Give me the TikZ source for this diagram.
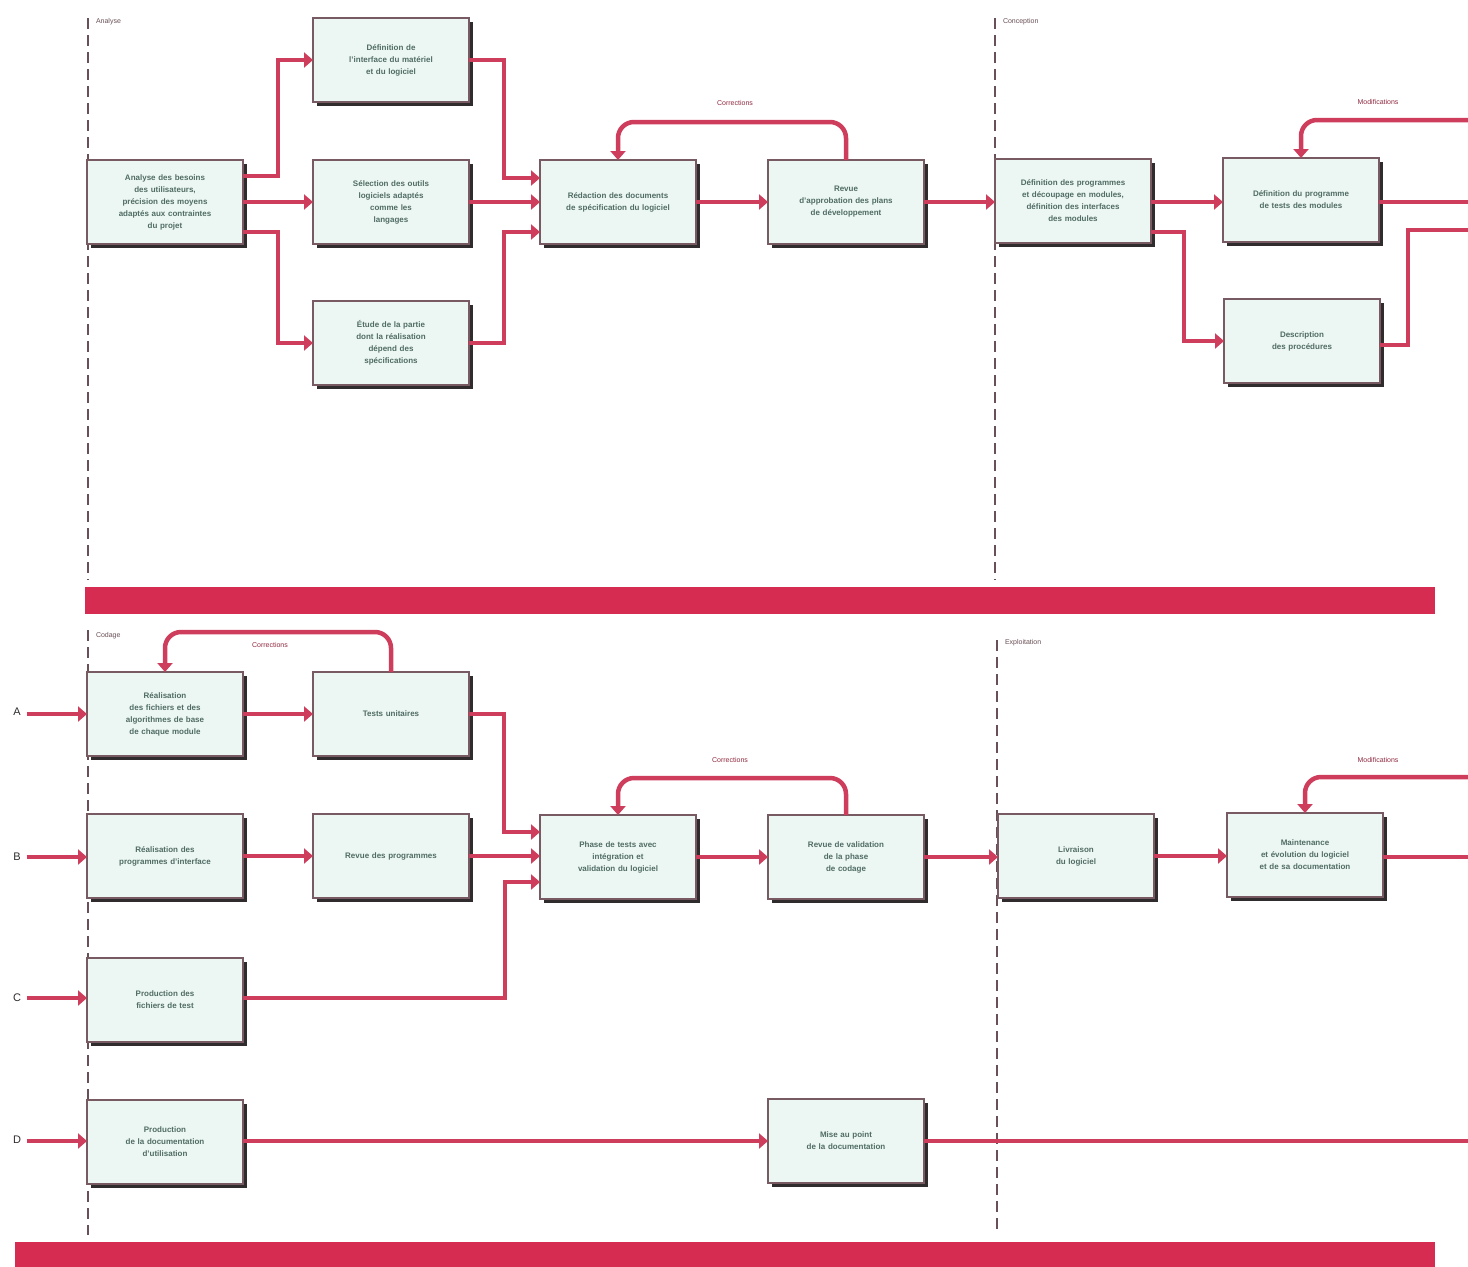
\documentclass[tikz,border=0pt]{standalone}
\usepackage{fontspec}
\setmainfont{Liberation Sans}
\usetikzlibrary{arrows.meta,calc}
\definecolor{rouge}{RGB}{206,62,92}
\definecolor{barre}{RGB}{214,44,82}
\definecolor{tiret}{RGB}{105,80,86}
\definecolor{bord}{RGB}{120,90,98}
\definecolor{fond}{RGB}{236,247,243}
\definecolor{ombre}{RGB}{48,44,46}
\definecolor{texte}{RGB}{80,108,100}
\tikzset{
  bloc/.style={draw=bord, line width=1.1pt, fill=fond, minimum width=156, minimum height=84,
    text width=146, align=center, text=texte, font=\fontsize{8}{12}\selectfont\bfseries},
  lien/.style={draw=rouge, line width=4.5pt, -{Triangle[width=15pt,length=9pt]}},
  fil/.style={draw=rouge, line width=4.5pt},
  tirets/.style={draw=tiret, line width=2.6pt, dash pattern=on 11pt off 6pt},
  etiq/.style={text=rouge!70!black, font=\fontsize{7}{9}\selectfont},
  phase/.style={anchor=west, text=tiret, font=\fontsize{7}{9}\selectfont},
  lettre/.style={text=ombre, font=\fontsize{11}{13}\selectfont}
}
\newcommand\etape[4]{%
  \fill[ombre] (#2-74,#3-38) rectangle (#2+82,#3+46);
  \node[bloc] (#1) at (#2,#3) {#4};}
\begin{document}
\begin{tikzpicture}[y=1pt, x=1pt, yscale=-1, inner sep=0pt, outer sep=0pt]
\useasboundingbox[fill=white] (0,0) rectangle (1468,1267);
% limites des phases
\draw[tirets] (88,18) -- (88,580);
\draw[tirets] (995,18) -- (995,580);
\draw[tirets] (88,630) -- (88,1235);
\draw[tirets] (997,640) -- (997,1235);
\node[phase] (ph1) at (96,22) {Analyse};
\node[phase] (ph2) at (1003,22) {Conception};
\node[phase] (ph3) at (96,636) {Codage};
\node[phase] (ph4) at (1005,643) {Exploitation};
\fill[barre] (85,587) rectangle (1435,614);
\fill[barre] (15,1242) rectangle (1435,1267);
% analyse
\etape{an}{165}{202}{Analyse des besoins\\des utilisateurs,\\précision des moyens\\adaptés aux contraintes\\du projet}
\etape{d1}{391}{60}{Définition de\\l'interface du matériel\\et du logiciel}
\etape{d2}{391}{202}{Sélection des outils\\logiciels adaptés\\comme les\\langages}
\etape{d3}{391}{343}{Étude de la partie\\dont la réalisation\\dépend des\\spécifications}
\etape{rd}{618}{202}{Rédaction des documents\\de spécification du logiciel}
\etape{rv}{846}{202}{Revue\\d'approbation des plans\\de développement}
% conception
\etape{cp}{1073}{201}{Définition des programmes\\et découpage en modules,\\définition des interfaces\\des modules}
\etape{pt}{1301}{200}{Définition du programme\\de tests des modules}
\etape{ds}{1302}{341}{Description\\des procédures}
\coordinate (s1) at (1468,202);
\coordinate (s2) at (1468,230);
\coordinate (e1) at (1468,120);
\draw[lien] (an.east |- 0,176) -- ++(35,0) |- (d1.west);
\draw[lien] (an.east) -- (d2.west);
\draw[lien] (an.east |- 0,232) -- ++(35,0) |- (d3.west);
\draw[lien] (d1.east) -- ++(35,0) |- (rd.west |- 0,178);
\draw[lien] (d2.east) -- (rd.west);
\draw[lien] (d3.east) -- ++(35,0) |- (rd.west |- 0,232);
\draw[lien] (rd.east) -- (rv.west);
\draw[lien, rounded corners=16] (rv.north) -- ++(0,-38) -| (rd.north);
\node[etiq] (l1) at (735,103) {Corrections};
\draw[lien] (rv.east) -- (cp.west |- rv.east);
\draw[lien] (cp.east |- 0,202) -- (pt.west |- 0,202);
\draw[lien] (cp.east |- 0,232) -- ++(33,0) |- (ds.west);
\draw[fil] (pt.east |- 0,202) -- (s1);
\draw[fil] (ds.east |- 0,345) -- ++(28,0) |- (s2);
\draw[lien, rounded corners=16] (e1) -| (pt.north);
\node[etiq] (l2) at (1378,102) {Modifications};
% codage
\node[lettre] (A) at (17,712) {A};
\node[lettre] (B) at (17,857) {B};
\node[lettre] (C) at (17,998) {C};
\node[lettre] (D) at (17,1140) {D};
\etape{ra}{165}{714}{Réalisation\\des fichiers et des\\algorithmes de base\\de chaque module}
\etape{tu}{391}{714}{Tests unitaires}
\etape{rp}{165}{856}{Réalisation des\\programmes d'interface}
\etape{rvp}{391}{856}{Revue des programmes}
\etape{pf}{165}{1000}{Production des\\fichiers de test}
\etape{pd}{165}{1142}{Production\\de la documentation\\d'utilisation}
\etape{ph}{618}{857}{Phase de tests avec\\intégration et\\validation du logiciel}
\etape{rvv}{846}{857}{Revue de validation\\de la phase\\de codage}
% exploitation
\etape{lv}{1076}{856}{Livraison\\du logiciel}
\etape{mt}{1305}{855}{Maintenance\\et évolution du logiciel\\et de sa documentation}
\etape{mp}{846}{1141}{Mise au point\\de la documentation}
\coordinate (s3) at (1468,857);
\coordinate (s4) at (1468,1141);
\coordinate (e2) at (1468,777);
\draw[lien] (A.east |- 0,714) ++(6,0) -- (ra.west);
\draw[lien] (B.east |- 0,857) ++(6,0) -- (rp.west |- 0,857);
\draw[lien] (C.east |- 0,998) ++(6,0) -- (pf.west |- 0,998);
\draw[lien] (D.east |- 0,1141) ++(6,0) -- (pd.west |- 0,1141);
\draw[lien] (ra.east) -- (tu.west);
\draw[lien, rounded corners=16] (tu.north) -- ++(0,-40) -| (ra.north);
\node[etiq] (l3) at (270,645) {Corrections};
\draw[lien] (rp.east) -- (rvp.west);
\draw[lien] (tu.east) -- ++(35,0) |- (ph.west |- 0,832);
\draw[lien] (rvp.east |- 0,856) -- (ph.west |- 0,856);
\draw[lien] (pf.east |- 0,998) -| ++(262,0) |- (ph.west |- 0,882);
\draw[lien] (ph.east) -- (rvv.west);
\draw[lien, rounded corners=16] (rvv.north) -- ++(0,-37) -| (ph.north);
\node[etiq] (l4) at (730,760) {Corrections};
\draw[lien] (rvv.east) -- (lv.west |- rvv.east);
\draw[lien] (lv.east) -- (mt.west |- lv.east);
\draw[fil] (mt.east |- 0,857) -- (s3);
\draw[lien, rounded corners=16] (e2) -| (mt.north);
\node[etiq] (l5) at (1378,760) {Modifications};
\draw[lien] (pd.east |- 0,1141) -- (mp.west);
\draw[fil] (mp.east) -- (s4);
\end{tikzpicture}
\end{document}
